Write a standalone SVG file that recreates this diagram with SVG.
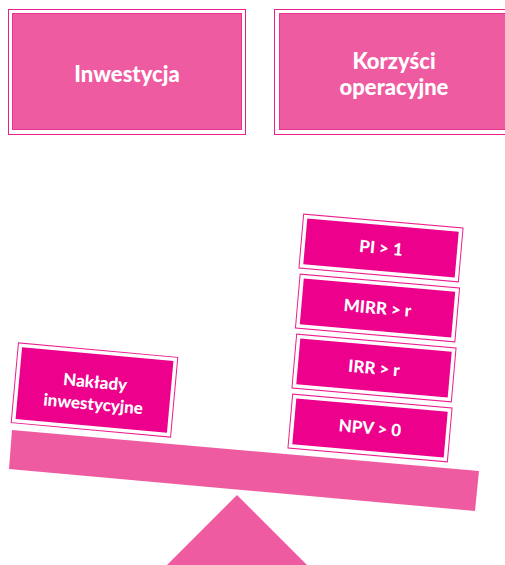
<svg xmlns="http://www.w3.org/2000/svg" width="505" height="565" viewBox="0 0 505 565">
<style>
.outer{fill:#ffffff;stroke:#EC1F8E;stroke-width:1}
.inner-top{fill:#EF5BA1;stroke:#E8348F;stroke-width:1}
.inner-box{fill:#EC008C}
.t{font-family:Lato,"Liberation Sans",sans-serif;font-weight:900;fill:#ffffff;text-anchor:middle}
.big{font-size:22px}
.small{font-size:17px}
.shape{fill:#EF5BA1}
</style>
<rect width="505" height="565" fill="#ffffff"/>
<g id="inwestycja">
<rect class="outer" x="8.5" y="9.5" width="237" height="125"/>
<rect class="inner-top" x="12.5" y="13.5" width="229" height="116"/>
<text class="t big" x="127" y="82">Inwestycja</text>
</g>
<g id="korzysci">
<rect class="outer" x="274.5" y="9.5" width="240" height="125"/>
<rect class="inner-top" x="279.5" y="13.5" width="240" height="116"/>
<text class="t big" x="394" y="69">Korzyści</text>
<text class="t big" x="394" y="95">operacyjne</text>
</g>
<g id="beam">
<polygon class="shape" points="12,430 479,471 475,511 9,469"/>
</g>
<g id="fulcrum">
<polygon class="shape" points="237,495 166,566 308,566"/>
</g>
<g id="naklady" transform="translate(94.5,390) rotate(5.2)">
<rect class="outer" x="-80" y="-40" width="160" height="80"/>
<rect class="inner-box" x="-76" y="-36" width="152" height="72"/>
<text class="t small" x="0" y="-2">Nakłady</text>
<text class="t small" x="0" y="20">inwestycyjne</text>
</g>
<g id="npv" transform="translate(370,428) rotate(5)">
<rect class="outer" x="-80" y="-27" width="160" height="54"/>
<rect class="inner-box" x="-76" y="-23" width="152" height="46"/>
<text class="t small" x="0" y="6">NPV &gt; 0</text>
</g>
<g id="irr" transform="translate(374,368) rotate(5)">
<rect class="outer" x="-80" y="-27" width="160" height="54"/>
<rect class="inner-box" x="-76" y="-23" width="152" height="46"/>
<text class="t small" x="0" y="6">IRR &gt; r</text>
</g>
<g id="mirr" transform="translate(377.5,308) rotate(5)">
<rect class="outer" x="-80" y="-27" width="160" height="54"/>
<rect class="inner-box" x="-76" y="-23" width="152" height="46"/>
<text class="t small" x="0" y="6">MIRR &gt; r</text>
</g>
<g id="pi" transform="translate(381,248) rotate(5)">
<rect class="outer" x="-80" y="-27" width="160" height="54"/>
<rect class="inner-box" x="-76" y="-23" width="152" height="46"/>
<text class="t small" x="0" y="6">PI &gt; 1</text>
</g>
<g id="connectors"/>
</svg>
